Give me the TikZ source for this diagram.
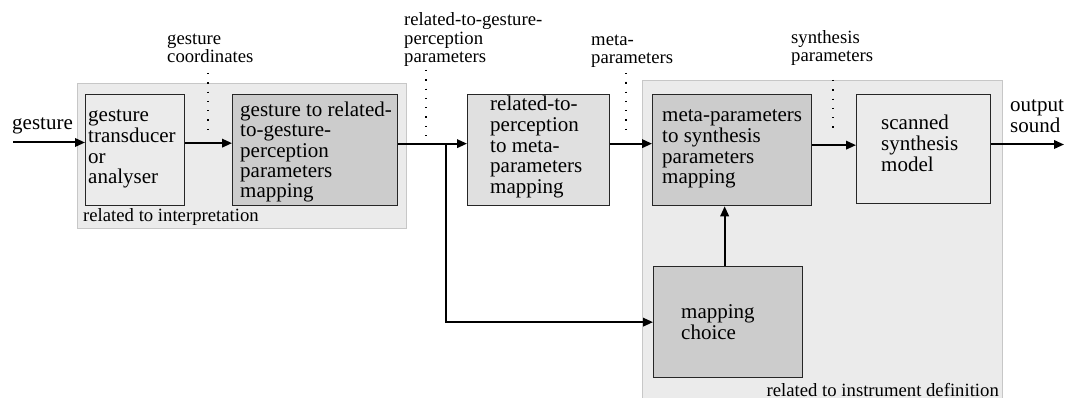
\documentclass[tikz,border=0pt]{standalone}
\usepackage{fontspec}
\setmainfont{Liberation Serif}
\usetikzlibrary{arrows.meta,calc}
\begin{document}
\begin{tikzpicture}[x=1pt,y=-1pt,
  grp/.style={draw=black!22, fill=black!8, line width=0.7pt, anchor=north west, inner sep=0pt},
  blk/.style={draw=black!85, line width=1.3pt, anchor=north west, inner sep=0pt},
  txt/.style={anchor=west, align=left, inner sep=0pt, font=\fontsize{21}{20.8}\selectfont},
  lbl/.style={align=left, font=\fontsize{18.7}{18.5}\selectfont, inner sep=0pt},
  big/.style={align=left, font=\fontsize{21}{20.8}\selectfont, inner sep=0pt},
  flow/.style={line width=2pt, -{Triangle[length=10pt,width=8.5pt]}},
  dots/.style={line width=1.3pt, dash pattern=on 1.3pt off 8pt}]
\useasboundingbox (0,0) rectangle (1068,398);
\fill[white] (0,0) rectangle (1068,398);

% group boxes
\node[grp, minimum width=329pt, minimum height=145pt] (g1) at (77,83) {};
\node[grp, minimum width=360pt, minimum height=330pt] (g2) at (642,80) {};
\node[lbl, anchor=west] (lg1) at (83,217) {related to interpretation};
\node[lbl, anchor=base east] (lg2) at (999,396) {related to instrument definition};

% blocks
\node[blk, fill=black!8,  minimum width=99pt,  minimum height=111pt] (b1) at (85,94) {};
\node[blk, fill=black!20, minimum width=165pt, minimum height=111pt] (b2) at (232,94) {};
\node[blk, fill=black!12, minimum width=142pt, minimum height=111pt] (b3) at (467,94) {};
\node[blk, fill=black!20, minimum width=159pt, minimum height=111pt] (b4) at (652,94) {};
\node[blk, fill=black!8,  minimum width=134pt, minimum height=109pt] (sc) at (856,94) {};
\node[blk, fill=black!20, minimum width=149pt, minimum height=111pt] (mc) at (653,266) {};

% block texts
\node[txt] (t1) at ([xshift=3pt,yshift=1pt]b1.west) {gesture\\transducer\\or\\analyser};
\node[txt, font=\fontsize{21}{20.2}\selectfont] (t2) at ([xshift=8pt,yshift=-2pt]b2.west) {gesture to related-\\to-gesture-\\perception\\parameters\\mapping};
\node[txt] (t3) at ([xshift=23pt,yshift=3pt]b3.west) {related-to-\\perception\\to meta-\\parameters\\mapping};
\node[txt] (t4) at ([xshift=10pt,yshift=1pt]b4.west) {meta-parameters\\to synthesis\\parameters\\mapping};
\node[txt] (t5) at ([xshift=25pt,yshift=6pt]sc.west) {scanned\\synthesis\\model};
\node[txt] (t6) at ([xshift=28pt]mc.west) {mapping\\choice};

% labels
\node[big, anchor=west] (lin) at (12,126) {gesture};
\node[big, anchor=south west] (lout) at (1010,133) {output\\sound};
\node[lbl, anchor=south west] (l1) at (167,63) {gesture\\coordinates};
\node[lbl, anchor=south west] (l2) at (404,67) {related-to-gesture-\\perception\\parameters};
\node[lbl, anchor=south west] (l3) at (591,68) {meta-\\parameters};
\node[lbl, anchor=south west] (l4) at (791,66) {synthesis\\parameters};

% dotted markers
\coordinate (d1a) at (208,73);  \coordinate (d1b) at (208,130);
\coordinate (d2a) at (426,70);  \coordinate (d2b) at (426,139);
\coordinate (d3a) at (626,73);  \coordinate (d3b) at (626,130);
\coordinate (d4a) at (833,80);  \coordinate (d4b) at (833,135);
\draw[dots] (d1a) -- (d1b);
\draw[dots] (d2a) -- (d2b);
\draw[dots] (d3a) -- (d3b);
\draw[dots] (d4a) -- (d4b);

% connectors
\coordinate (gin) at (13,142.5);
\coordinate (j) at ([xshift=48pt,yshift=6.5pt]b2.east);
\coordinate (sout) at (1064,144.5);
\draw[flow] (gin) -- (gin -| b1.west);
\draw[flow] ([yshift=7pt]b1.east) -- ([yshift=7pt]b1.east -| b2.west);
\draw[flow] ([yshift=6.5pt]b2.east) -- ([yshift=6.5pt]b2.east -| b3.west);
\draw[line width=2pt] (j) |- ([xshift=-2pt]mc.west);
\draw[flow] ([yshift=6.5pt]b3.east) -- ([yshift=6.5pt]b3.east -| b4.west);
\draw[flow] ([yshift=5pt]b4.east) -- ([yshift=5pt]b4.east -| sc.west);
\draw[flow] (sout -| sc.east) -- (sout);
\draw[flow] (j |- mc.west) -- (mc.west);
\draw[flow] ([xshift=-3.5pt]mc.north) -- ([xshift=-3.5pt]mc.north |- b4.south);
\end{tikzpicture}
\end{document}
